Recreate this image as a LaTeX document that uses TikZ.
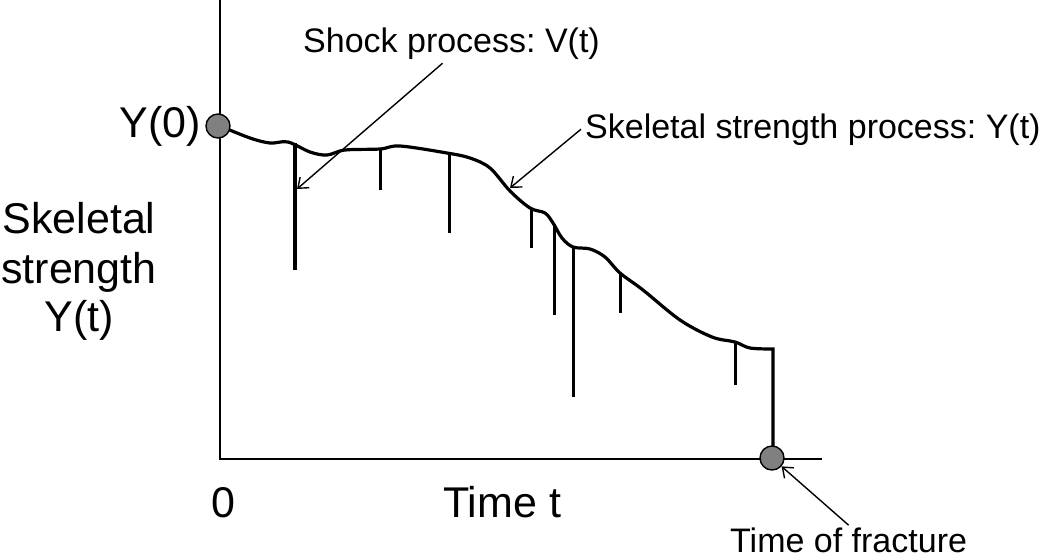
\documentclass[tikz,border=0pt]{standalone}
\usepackage{fontspec}
\setmainfont{Liberation Sans}
\usetikzlibrary{positioning,arrows.meta}
\definecolor{dotgray}{RGB}{128,128,128}
\frenchspacing

\begin{document}
\begin{tikzpicture}[x=1pt,y=-1pt,
   big/.style={inner sep=0pt,font=\fontsize{43}{50}\selectfont},
   lbl/.style={inner sep=4pt,font=\fontsize{34}{40}\selectfont},
   dot/.style={circle,draw,line width=1.4pt,fill=dotgray,minimum size=24pt,inner sep=0pt},
   ax/.style={line width=2pt},
   shk/.style={line width=3pt},
   ptr/.style={line width=1.4pt,-{Straight Barb[length=9pt,width=14pt]}}]
\useasboundingbox (0,0) rectangle (1050,558);

%% ---- axes ----
\draw[ax] (220,0) -- (220,459) -- (822,459);

%% ---- strength process Y(t) ----
\draw[line width=3.2pt] plot[smooth,tension=0.55] coordinates {(220,126) (250,138) (270,143)
   (288,142) (310,152) (327,155) (345,150) (380,149) (400,146) (447,153) (470,158) (490,168)
   (510,191) (530,208) (545,213) (553,223) (562,238) (573,247) (590,249) (605,257) (620,273)
   (643,290) (680,320) (712,337) (735,342) (750,348) (773,349)} -- (773,458);

%% ---- shocks V(t) ----
\foreach \x/\ya/\yb/\w in {295/143/270/4, 380/149/190/3, 449/153/233/3, 531/208/248/3,
   554/224/315/3, 573/247/397/3, 620/273/313/3, 735/342/385/3}
  \draw[shk,line width=\w pt] (\x,\ya) -- (\x,\yb);

%% ---- end points ----
\node[dot] (y0) at (218,126) {};
\node[dot] (tf) at (772,458) {};

%% ---- axis labels ----
\node[big,anchor=base east] (y0lbl) at (201,137) {Y(0)};
\node[big,anchor=base] (zero) at (223,517) {0};
\node[big,anchor=base west] (timelbl) at (443,517) {Time t};
\node[big,anchor=base] (ylab1) at (79,233) {Skeletal};
\node[big,anchor=base] (ylab2) at (79,283) {strength};
\node[big,anchor=base] (ylab3) at (79,331) {Y(t)};

%% ---- pointers ----
\node[lbl,anchor=base west] (shocklbl) at (299,52) {Shock process: V(t)};
\node[lbl,anchor=base west] (skllbl) at (581,138) {Skeletal strength process: Y(t)};
\node[lbl,inner sep=2pt,anchor=base west] (fraclbl) at (728,552) {Time of fracture};
\coordinate (shkpt) at (297,189);
\coordinate (sklpt) at (510,188);
\draw[ptr] ([xshift=-9pt]shocklbl.south) -- (shkpt);
\draw[ptr] (skllbl.west) -- (sklpt);
\draw[ptr] (fraclbl.north) -- (tf);
\end{tikzpicture}
\end{document}
